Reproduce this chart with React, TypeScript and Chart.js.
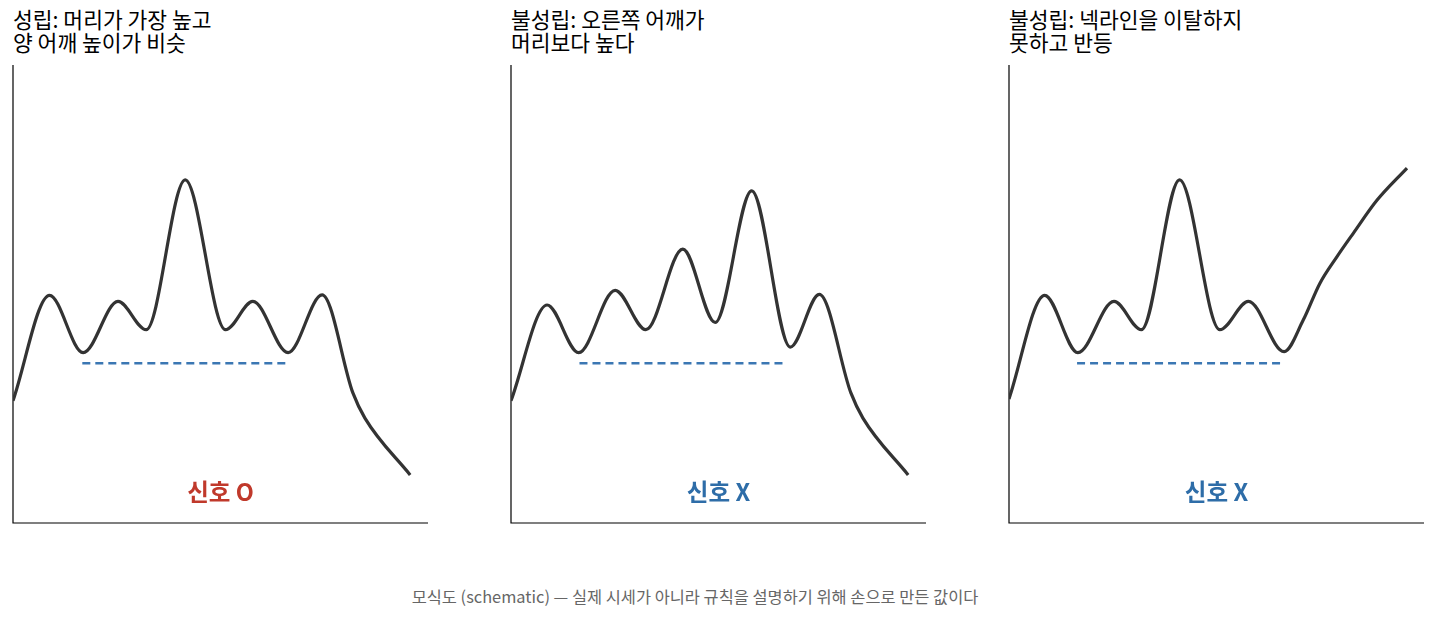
import { useEffect, useRef } from "react"
import { Chart, registerables } from "chart.js"

Chart.register(...registerables)

// Panel 1: 성립 (head highest, shoulders level)
const validX = [0, 8.8, 16.9, 25.3, 32.1, 41.5, 51.2, 57.8, 66.3, 74.5, 81.9, 84.8, 95.7]
const validY = [26.7, 49.7, 37.2, 48.4, 42.2, 74.9, 42.2, 48.4, 37.2, 49.8, 28.4, 22.9, 10.5]

// Panel 2: 불성립 (right shoulder above head)
const shoulderX = [0, 8.7, 16.3, 25.1, 32.5, 41.4, 49.2, 58.0, 67.3, 74.3, 81.9, 84.8, 95.7]
const shoulderY = [26.7, 47.6, 37.2, 50.8, 42.2, 59.8, 43.8, 72.5, 38.4, 49.9, 28.4, 22.9, 10.5]

// Panel 3: 불성립 (no neckline break, rebound)
const reboundX = [0, 8.6, 16.6, 25.3, 31.9, 41.1, 50.8, 57.7, 66.3, 70.9, 74.9, 79.0, 83.0, 88.7, 95.9]
const reboundY = [27.1, 49.7, 37.2, 48.4, 42.2, 74.9, 42.2, 48.4, 37.4, 44.3, 52.3, 58.1, 63.3, 70.5, 77.5]

// neckline [x start, x end] and level
const necklineX1 = [16.7, 66.8]
const necklineX2 = [16.5, 66.4]
const necklineX3 = [16.4, 65.4]
const necklineY = 34.9

const titles = [
  ["성립: 머리가 가장 높고", "양 어깨 높이가 비슷"],
  ["불성립: 오른쪽 어깨가", "머리보다 높다"],
  ["불성립: 넥라인을 이탈하지", "못하고 반등"],
]
const signals = ["신호 O", "신호 X", "신호 X"]
const signalColors = ["#c0392b", "#2e6da8", "#2e6da8"]

const FONT = '"Noto Sans CJK KR", "Noto Sans", sans-serif'
const PAD = 4

function Panel({
  xs,
  ys,
  neck,
  signal,
  signalColor,
}: {
  xs: number[]
  ys: number[]
  neck: number[]
  signal: string
  signalColor: string
}) {
  const chartRef = useRef<HTMLCanvasElement>(null)
  const chartInstance = useRef<Chart | null>(null)

  useEffect(() => {
    if (!chartRef.current) return
    if (chartInstance.current) chartInstance.current.destroy()
    const ctx = chartRef.current.getContext("2d")
    if (!ctx) return

    // left and bottom spines + signal text
    const decorations = {
      id: "decorations",
      beforeDatasetsDraw(chart: Chart) {
        const { left, top, bottom, right } = chart.chartArea
        const c = chart.ctx
        c.save()
        c.strokeStyle = "#000000"
        c.lineWidth = 1.2
        c.beginPath()
        c.moveTo(left, top)
        c.lineTo(left, bottom)
        c.lineTo(right, bottom)
        c.stroke()
        c.restore()
      },
      afterDatasetsDraw(chart: Chart) {
        const c = chart.ctx
        const x = chart.scales.x.getPixelForValue(50)
        const y = chart.scales.y.getPixelForValue(6.8)
        c.save()
        c.font = `bold 23.5px ${FONT}`
        c.fillStyle = signalColor
        c.textAlign = "center"
        c.textBaseline = "middle"
        c.fillText(signal, x, y)
        c.restore()
      },
    }

    chartInstance.current = new Chart(ctx, {
      type: "line",
      data: {
        datasets: [
          {
            data: xs.map((x, i) => ({ x, y: ys[i] })),
            borderColor: "#333333",
            borderWidth: 3.2,
            pointRadius: 0,
            cubicInterpolationMode: "monotone",
            fill: false,
          },
          {
            data: neck.map((x) => ({ x, y: necklineY })),
            borderColor: "#3b77b3",
            borderWidth: 2.5,
            borderDash: [8, 5],
            pointRadius: 0,
            fill: false,
          },
        ],
      },
      options: {
        animation: false,
        responsive: false,
        maintainAspectRatio: false,
        layout: { padding: PAD, autoPadding: false },
        plugins: {
          legend: { display: false },
          tooltip: { enabled: false },
        },
        scales: {
          x: { type: "linear", min: 0, max: 100, display: false },
          y: { min: 0, max: 100, display: false },
        },
      },
      plugins: [decorations],
    })

    return () => {
      if (chartInstance.current) {
        chartInstance.current.destroy()
        chartInstance.current = null
      }
    }
  }, [xs, ys, neck, signal, signalColor])

  const w = 415 + PAD * 2
  const h = 458 + PAD * 2
  return <canvas ref={chartRef} width={w} height={h} style={{ width: w, height: h, display: "block" }} />
}

const panelLefts = [13, 511, 1009]
const series = [
  { xs: validX, ys: validY, neck: necklineX1 },
  { xs: shoulderX, ys: shoulderY, neck: necklineX2 },
  { xs: reboundX, ys: reboundY, neck: necklineX3 },
]

export default function App() {
  return (
    <div style={{ position: "absolute", left: 0, top: 0, width: 1436, height: 618, background: "#fff", fontFamily: FONT }}>
      {series.map((s, i) => (
        <div key={i}>
          <div
            style={{
              position: "absolute",
              left: panelLefts[i],
              top: 7,
              fontSize: 21.5,
              lineHeight: "23px",
              color: "#000",
              whiteSpace: "nowrap",
            }}
          >
            {titles[i][0]}
            <br />
            {titles[i][1]}
          </div>
          <div style={{ position: "absolute", left: panelLefts[i] - PAD, top: 65 - PAD }}>
            <Panel xs={s.xs} ys={s.ys} neck={s.neck} signal={signals[i]} signalColor={signalColors[i]} />
          </div>
        </div>
      ))}
      <div
        style={{
          position: "absolute",
          left: 0,
          width: 1390,
          top: 584,
          textAlign: "center",
          fontSize: 16.4,
          color: "#666",
          whiteSpace: "nowrap",
        }}
      >
        모식도 (schematic) — 실제 시세가 아니라 규칙을 설명하기 위해 손으로 만든 값이다
      </div>
    </div>
  )
}
